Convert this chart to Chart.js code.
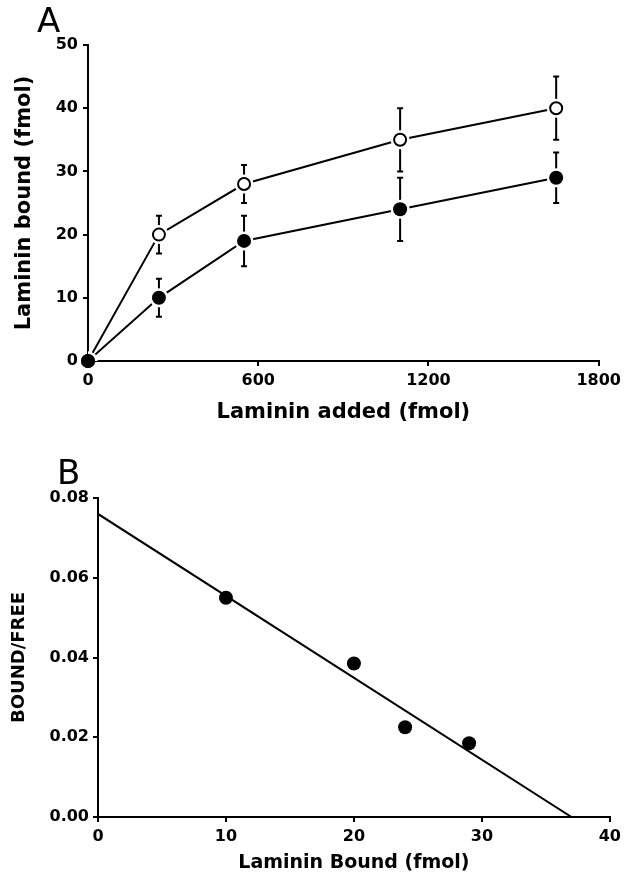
<!DOCTYPE html>
<html>
<head>
<meta charset="utf-8">
<script src="https://cdn.jsdelivr.net/npm/chart.js@4"></script>
<style>
  body { margin: 0; background: #fff; }
  #wrap { position: relative; width: 626px; height: 878px; }
  canvas { position: absolute; left: 0; }
  .tag { position: absolute; font-family: "DejaVu Sans", sans-serif; font-weight: normal; color: #000; line-height: 1; }
</style>
</head>
<body>
<div id="wrap">
  <canvas id="chartA" width="626" height="430" style="top:0"></canvas>
  <canvas id="chartB" width="626" height="448" style="top:430px"></canvas>
  <div class="tag" style="left:37px;top:3px;font-size:34px">A</div>
  <div class="tag" style="left:57px;top:455px;font-size:34px">B</div>
</div>
<script>
// panel A: laminin added vs bound
var addedX = [0, 250, 550, 1100, 1650];
var openY = [0, 20, 28, 35, 40];
var openErr = [0, 3, 3, 5, 5];
var fillY = [0, 10, 19, 24, 29];
var fillErr = [0, 3, 4, 5, 4];

// panel B: scatchard plot
var boundX = [10, 20, 24, 29];
var ratioY = [0.055, 0.0385, 0.0225, 0.0185];
var fitX = [0, 37];
var fitY = [0.076, 0];

Chart.defaults.font.family = '"DejaVu Sans", sans-serif';
Chart.defaults.color = '#000';

function pts(xs, ys) {
  return xs.map(function (x, i) { return { x: x, y: ys[i] }; });
}

var errBars = {
  id: 'errBars',
  beforeDatasetsDraw: function (chart) {
    var ctx = chart.ctx, sx = chart.scales.x, sy = chart.scales.y;
    ctx.save();
    ctx.strokeStyle = '#000';
    ctx.lineWidth = 2;
    [[openY, openErr], [fillY, fillErr]].forEach(function (s) {
      s[0].forEach(function (v, i) {
        if (!s[1][i]) return;
        var px = sx.getPixelForValue(addedX[i]);
        var top = sy.getPixelForValue(v + s[1][i]);
        var bot = sy.getPixelForValue(v - s[1][i]);
        ctx.beginPath();
        ctx.moveTo(px, top); ctx.lineTo(px, bot);
        ctx.moveTo(px - 3, top); ctx.lineTo(px + 3, top);
        ctx.moveTo(px - 3, bot); ctx.lineTo(px + 3, bot);
        ctx.stroke();
      });
    });
    ctx.restore();
  }
};

function axis(min, max, step, size, title, titleFont, titlePad, tickPad, fmt) {
  return {
    type: 'linear', min: min, max: max,
    border: { color: '#000', width: 2 },
    grid: { drawOnChartArea: false, color: '#000', lineWidth: 2, tickLength: 5 },
    ticks: { stepSize: step, padding: tickPad, font: { size: 16, weight: 'bold' },
             callback: fmt || function (v) { return v; } },
    title: { display: true, text: title, font: titleFont, padding: titlePad },
    afterFit: function (s) { if (s.isHorizontal()) s.height = size; else s.width = size; }
  };
}

new Chart(document.getElementById('chartA'), {
  type: 'scatter',
  data: {
    datasets: [
      { data: pts(addedX, openY), showLine: true, borderColor: '#000', borderWidth: 2, pointRadius: 0, order: 2 },
      { data: pts(addedX, fillY), showLine: true, borderColor: '#000', borderWidth: 2, pointRadius: 0, order: 2 },
      { data: pts(addedX, openY), pointRadius: 9.5, pointBackgroundColor: '#fff', pointBorderWidth: 0, order: 1 },
      { data: pts(addedX, fillY), pointRadius: 9.5, pointBackgroundColor: '#fff', pointBorderWidth: 0, order: 1 },
      { data: pts(addedX, openY), pointRadius: 6, pointBackgroundColor: '#fff', pointBorderColor: '#000', pointBorderWidth: 2, order: 0, clip: false },
      { data: pts(addedX, fillY), pointRadius: 7, pointBackgroundColor: '#000', pointBorderWidth: 0, order: -1, clip: false }
    ]
  },
  options: {
    responsive: false, animation: false, events: [],
    layout: { padding: { left: 0, right: 25, top: 45, bottom: 0 } },
    plugins: { legend: { display: false }, tooltip: { enabled: false } },
    scales: {
      x: axis(0, 1800, 600, 69, 'Laminin added (fmol)', { size: 21, weight: 'bold' }, { top: 0, bottom: 5 }, 5),
      y: axis(0, 50, 10, 88, 'Laminin bound (fmol)', { size: 21, weight: 'bold' }, { top: 12 }, 5)
    }
  },
  plugins: [errBars]
});

new Chart(document.getElementById('chartB'), {
  type: 'scatter',
  data: {
    datasets: [
      { data: pts(fitX, fitY), showLine: true, borderColor: '#000', borderWidth: 2, pointRadius: 0, order: 1 },
      { data: pts(boundX, ratioY), pointRadius: 7, pointBackgroundColor: '#000', pointBorderWidth: 0, order: 0 }
    ]
  },
  options: {
    responsive: false, animation: false, events: [],
    layout: { padding: { left: 0, right: 14, top: 68, bottom: 0 } },
    plugins: { legend: { display: false }, tooltip: { enabled: false } },
    scales: {
      x: axis(0, 40, 10, 61, 'Laminin Bound (fmol)', { size: 19, weight: 'bold' }, { top: 0, bottom: 4 }, 5),
      y: axis(0, 0.08, 0.02, 98, 'BOUND/FREE', { size: 18, weight: 'bold' }, { top: 9 }, 4,
              function (v) { return v.toFixed(2); })
    }
  }
});
</script>
</body>
</html>
